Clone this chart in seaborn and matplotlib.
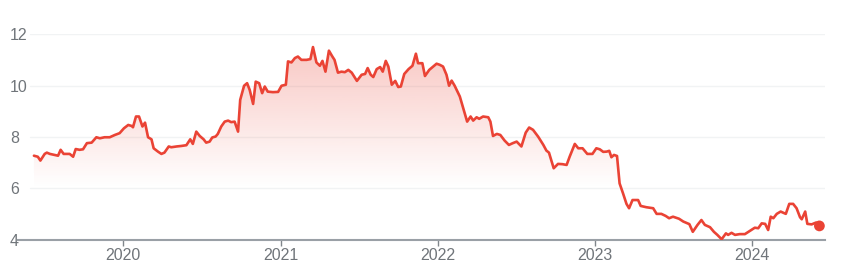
import numpy as np
import pandas as pd
import matplotlib
matplotlib.use("Agg")
import matplotlib.pyplot as plt
import matplotlib.dates as mdates
from matplotlib.path import Path
import seaborn as sns

dates = [
    "2019-06-08", "2019-06-17", "2019-06-23", "2019-07-03", "2019-07-08", "2019-07-15",
    "2019-07-26", "2019-08-03", "2019-08-09", "2019-08-16", "2019-08-30", "2019-09-07",
    "2019-09-13", "2019-09-22", "2019-09-30", "2019-10-09", "2019-10-20", "2019-10-31",
    "2019-11-08", "2019-11-19", "2019-12-01", "2019-12-13", "2019-12-24",
    "2020-01-03", "2020-01-13", "2020-01-21", "2020-01-24", "2020-01-31", "2020-02-07",
    "2020-02-15", "2020-02-21", "2020-02-28", "2020-03-07", "2020-03-12", "2020-03-22",
    "2020-03-30", "2020-04-06", "2020-04-16", "2020-04-22", "2020-05-04", "2020-05-15",
    "2020-05-27", "2020-06-05", "2020-06-11", "2020-06-19", "2020-06-27", "2020-07-06",
    "2020-07-12", "2020-07-20", "2020-07-26", "2020-08-03", "2020-08-08", "2020-08-16",
    "2020-08-24", "2020-09-01", "2020-09-08", "2020-09-16", "2020-09-24", "2020-09-29",
    "2020-10-08", "2020-10-15", "2020-10-21", "2020-10-29", "2020-11-04", "2020-11-12",
    "2020-11-19", "2020-11-25", "2020-12-02", "2020-12-14", "2020-12-26",
    "2021-01-03", "2021-01-13", "2021-01-18", "2021-01-26", "2021-02-03", "2021-02-10",
    "2021-02-18", "2021-03-02", "2021-03-11", "2021-03-17", "2021-03-25", "2021-04-02",
    "2021-04-08", "2021-04-15", "2021-04-23", "2021-05-01", "2021-05-06", "2021-05-14",
    "2021-05-22", "2021-05-30", "2021-06-07", "2021-06-15", "2021-06-27", "2021-07-08",
    "2021-07-16", "2021-07-22", "2021-07-29", "2021-08-04", "2021-08-12", "2021-08-20",
    "2021-08-26", "2021-09-02", "2021-09-08", "2021-09-16", "2021-09-24", "2021-10-01",
    "2021-10-07", "2021-10-15", "2021-10-25", "2021-11-03", "2021-11-11", "2021-11-16",
    "2021-11-26", "2021-12-02", "2021-12-12", "2021-12-21", "2021-12-29",
    "2022-01-05", "2022-01-13", "2022-01-21", "2022-01-27", "2022-02-02", "2022-02-09",
    "2022-02-21", "2022-03-02", "2022-03-10", "2022-03-18", "2022-03-24", "2022-04-01",
    "2022-04-07", "2022-04-16", "2022-04-28", "2022-05-03", "2022-05-09", "2022-05-18",
    "2022-05-26", "2022-06-05", "2022-06-15", "2022-06-24", "2022-07-03", "2022-07-14",
    "2022-07-24", "2022-08-01", "2022-08-10", "2022-08-22", "2022-09-03", "2022-09-10",
    "2022-09-16", "2022-09-27", "2022-10-07", "2022-10-17", "2022-10-27", "2022-11-03",
    "2022-11-15", "2022-11-23", "2022-12-03", "2022-12-14", "2022-12-26",
    "2023-01-04", "2023-01-12", "2023-01-20", "2023-01-28", "2023-02-03", "2023-02-08",
    "2023-02-14", "2023-02-21", "2023-02-27", "2023-03-07", "2023-03-15", "2023-03-21",
    "2023-03-29", "2023-04-11", "2023-04-17", "2023-04-30", "2023-05-16", "2023-05-24",
    "2023-06-04", "2023-06-14", "2023-06-22", "2023-07-01", "2023-07-15", "2023-07-25",
    "2023-08-08", "2023-08-16", "2023-08-27", "2023-09-05", "2023-09-13", "2023-09-25",
    "2023-10-04", "2023-10-12", "2023-10-22", "2023-11-01", "2023-11-06", "2023-11-14",
    "2023-11-22", "2023-12-03", "2023-12-15", "2023-12-27",
    "2024-01-07", "2024-01-15", "2024-01-23", "2024-01-31", "2024-02-07", "2024-02-13",
    "2024-02-19", "2024-02-27", "2024-03-07", "2024-03-19", "2024-03-27", "2024-04-05",
    "2024-04-13", "2024-04-21", "2024-04-25", "2024-05-03", "2024-05-08", "2024-05-18",
    "2024-05-28", "2024-06-05",
]

prices = [
    7.27, 7.23, 7.08, 7.34, 7.39, 7.34,
    7.30, 7.27, 7.50, 7.34, 7.34, 7.23,
    7.53, 7.50, 7.52, 7.76, 7.78, 7.99,
    7.95, 7.99, 7.99, 8.08, 8.15,
    8.34, 8.47, 8.43, 8.38, 8.80, 8.80,
    8.41, 8.56, 7.99, 7.91, 7.56, 7.43,
    7.34, 7.39, 7.63, 7.60, 7.63, 7.65,
    7.68, 7.91, 7.73, 8.21, 8.04, 7.91,
    7.78, 7.82, 7.98, 8.02, 8.12, 8.41,
    8.60, 8.64, 8.58, 8.60, 8.21, 9.45,
    10.00, 10.10, 9.84, 9.29, 10.16, 10.10,
    9.71, 9.97, 9.77, 9.75, 9.76,
    10.00, 10.04, 10.95, 10.91, 11.08, 11.14,
    11.01, 11.01, 11.04, 11.51, 10.91, 10.78,
    10.97, 10.55, 11.37, 11.14, 11.01, 10.51,
    10.55, 10.53, 10.62, 10.51, 10.19, 10.43,
    10.46, 10.69, 10.43, 10.34, 10.65, 10.73,
    10.55, 10.97, 10.75, 10.04, 10.19, 9.95,
    9.97, 10.46, 10.65, 10.78, 11.25, 10.88,
    10.88, 10.38, 10.62, 10.75, 10.86,
    10.82, 10.75, 10.43, 10.00, 10.20, 10.00,
    9.58, 9.06, 8.60, 8.80, 8.64, 8.77,
    8.71, 8.80, 8.77, 8.60, 8.04, 8.12,
    8.08, 7.86, 7.69, 7.76, 7.82, 7.63,
    8.17, 8.37, 8.28, 8.01, 7.69, 7.47,
    7.39, 6.78, 6.95, 6.94, 6.91, 7.23,
    7.73, 7.56, 7.56, 7.34, 7.34,
    7.56, 7.52, 7.42, 7.43, 7.46, 7.21,
    7.30, 7.26, 6.19, 5.80, 5.39, 5.22,
    5.54, 5.54, 5.31, 5.26, 5.22, 5.00,
    5.00, 4.92, 4.83, 4.89, 4.81, 4.70,
    4.60, 4.30, 4.57, 4.76, 4.57, 4.48,
    4.30, 4.18, 4.01, 4.24, 4.18, 4.26,
    4.18, 4.21, 4.21, 4.34,
    4.46, 4.44, 4.63, 4.61, 4.37, 4.89,
    4.83, 5.00, 5.09, 5.00, 5.39, 5.39,
    5.22, 4.87, 4.79, 5.09, 4.61, 4.59,
    4.66, 4.53,
]

y_ticks = [4, 6, 8, 10, 12]
x_tick_labels = ["2020", "2021", "2022", "2023", "2024"]

RED = "#ea4335"
TEXT = "#70757a"

df = pd.DataFrame({"date": pd.to_datetime(dates), "price": prices})

sns.set_style("white")
plt.rcParams["font.family"] = ["Liberation Sans", "DejaVu Sans"]

fig = plt.figure(figsize=(8.46, 2.74), dpi=100)
ax = fig.add_axes([18 / 846, 34.5 / 274, 807 / 846, 205 / 274])

ax.set_xlim(pd.Timestamp("2019-05-02"), pd.Timestamp("2024-06-18"))
ax.set_ylim(4, 12)

# grid lines
for yv in y_ticks[1:]:
    ax.axhline(yv, xmin=12 / 807, xmax=1.0, color="#f1f3f4", lw=1.0, zorder=0)

# gradient fill under line (down to 6)
xnum = mdates.date2num(df["date"])
vals = np.asarray(prices)
poly = ax.fill_between(xnum, vals, 6, where=vals >= 6, interpolate=True,
                       color="none", lw=0)
grad = np.zeros((256, 1, 4))
r, g, b = matplotlib.colors.to_rgb(RED)
grad[:, 0, 0], grad[:, 0, 1], grad[:, 0, 2] = r, g, b
grad[:, 0, 3] = np.linspace(0.30, 0.0, 256)
x0, x1 = ax.get_xlim()
im = ax.imshow(grad, aspect="auto", extent=[x0, x1, 6, 11.6], origin="upper",
               zorder=1, interpolation="bilinear")
cp = Path.make_compound_path(*poly.get_paths())
im.set_clip_path(cp, transform=ax.transData)

sns.lineplot(data=df, x="date", y="price", ax=ax, color=RED, lw=1.9, zorder=3)
sns.scatterplot(data=df.iloc[[-1]], x="date", y="price", ax=ax, color=RED,
                s=60, edgecolor="none", zorder=4, clip_on=False)
ax.set_xlim(x0, x1)
ax.set_ylim(4, 12)

# spines
for s in ["top", "right", "left"]:
    ax.spines[s].set_visible(False)
ax.spines["bottom"].set_color("#9aa0a6")
ax.spines["bottom"].set_linewidth(1.5)

ax.set_xticks(pd.to_datetime([f"{y}-01-01" for y in x_tick_labels]))
ax.set_xticklabels(x_tick_labels)
ax.tick_params(axis="x", direction="out", length=4, width=1, color="#80868b",
               labelsize=11.5, labelcolor=TEXT, pad=2, bottom=True)
ax.set_yticks(y_ticks)
ax.set_yticklabels([str(v) for v in y_ticks])
ax.tick_params(axis="y", length=0, labelsize=11.5, labelcolor=TEXT, pad=5.8)
for lab in ax.get_yticklabels():
    lab.set_horizontalalignment("left")

ax.set_xlabel("")
ax.set_ylabel("")
ax.grid(False)

fig.savefig("out.png", dpi=100)
